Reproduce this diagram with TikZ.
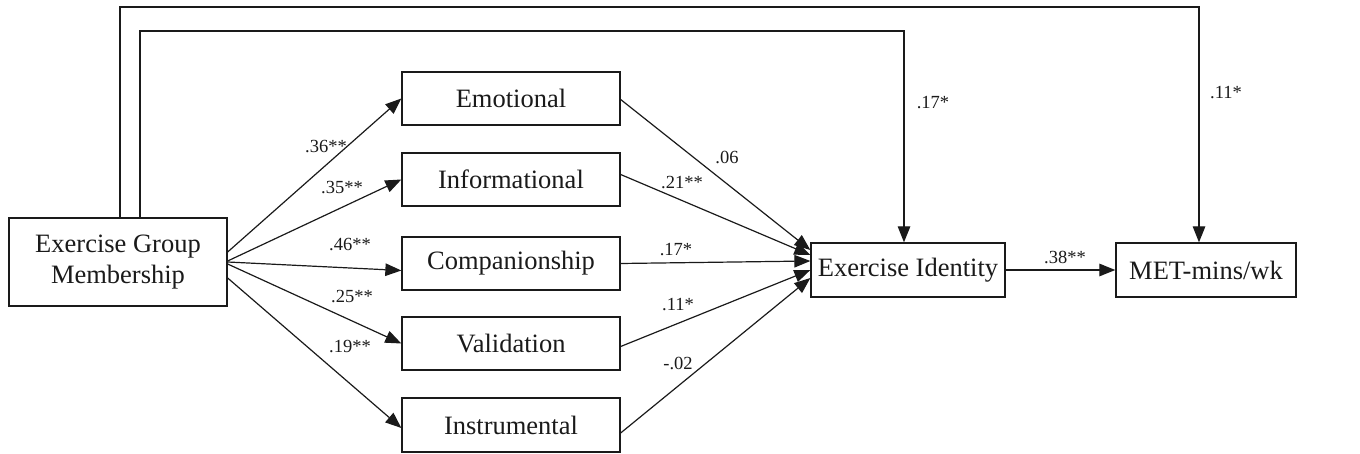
\documentclass[tikz,border=0pt]{standalone}
\usepackage{fontspec}
\setmainfont{Liberation Serif}
\usetikzlibrary{arrows.meta}
\definecolor{ink}{HTML}{1A1A1A}
\tikzset{
  box/.style={draw=ink, line width=1.3pt, minimum width=218pt, minimum height=53pt,
    inner sep=0pt, align=center, font=\fontsize{26.5}{31}\selectfont, text=ink},
  conn/.style={draw=ink, line width=1.2pt, -{Triangle[length=16pt,width=12.5pt]}},
  lbl/.style={inner sep=0pt, font=\fontsize{18.5}{20}\selectfont, text=ink}
}
\begin{document}
\begin{tikzpicture}[x=1pt,y=-1pt]
\useasboundingbox (0,0) rectangle (1360,454);
% boxes
\node[box, minimum height=88pt] (egm) at (118,262) {Exercise Group\\Membership};
\node[box] (emo) at (511,98.5) {Emotional};
\node[box] (inf) at (511,179.5) {Informational};
\node[box] (com) at (511,263.5) {Companionship};
\node[box] (val) at (511,343.5) {Validation};
\node[box, minimum height=54pt] (ins) at (511,425) {Instrumental};
\node[box, minimum width=194pt, minimum height=54pt] (ei) at (908,270) {Exercise Identity};
\node[box, minimum width=180pt, minimum height=54pt] (met) at (1206,270) {MET-mins/wk};
% top routing coordinates
\coordinate (t1) at (120,7);
\coordinate (t2) at (140,31);
% EGM -> mediators
\draw[conn] ([yshift=10pt]egm.east) -- (emo.west);
\draw[conn] ([yshift=1pt]egm.east) -- (inf.west);
\draw[conn] (egm.east) -- ([yshift=-7pt]com.west);
\draw[conn] ([yshift=-2pt]egm.east) -- (val.west);
\draw[conn] ([yshift=-16pt]egm.east) -- ([yshift=-3pt]ins.west);
% mediators -> EI
\draw[conn] ([yshift=-1pt]emo.east) -- ([yshift=20pt]ei.west);
\draw[conn] ([yshift=5pt]inf.east) -- ([yshift=15pt]ei.west);
\draw[conn] (com.east) -- ([yshift=9pt]ei.west);
\draw[conn] ([yshift=-3pt]val.east) -- ([yshift=0pt]ei.west);
\draw[conn] ([yshift=-8pt]ins.east) -- ([yshift=-8pt]ei.west);
% EI -> MET
\draw[conn] (ei.east) -- (met.west);
% direct paths
\draw[conn] (t1 |- egm.north) -- (t1) -| ([xshift=-7pt]met.north);
\draw[conn] (t2 |- egm.north) -- (t2) -| ([xshift=-4pt]ei.north);
% labels
\node[lbl] (l1) at (326,147) {.36**};
\node[lbl] (l2) at (342,188) {.35**};
\node[lbl] (l3) at (350,245) {.46**};
\node[lbl] (l4) at (352,297) {.25**};
\node[lbl] (l5) at (350,347) {.19**};
\node[lbl] (r1) at (727,157) {.06};
\node[lbl] (r2) at (682,183) {.21**};
\node[lbl] (r3) at (676,250) {.17*};
\node[lbl] (r4) at (678,305) {.11*};
\node[lbl] (r5) at (678,363) {-.02};
\node[lbl] (d1) at (933,103) {.17*};
\node[lbl] (d2) at (1226,93) {.11*};
\node[lbl] (m1) at (1065,257) {.38**};
\end{tikzpicture}
\end{document}
